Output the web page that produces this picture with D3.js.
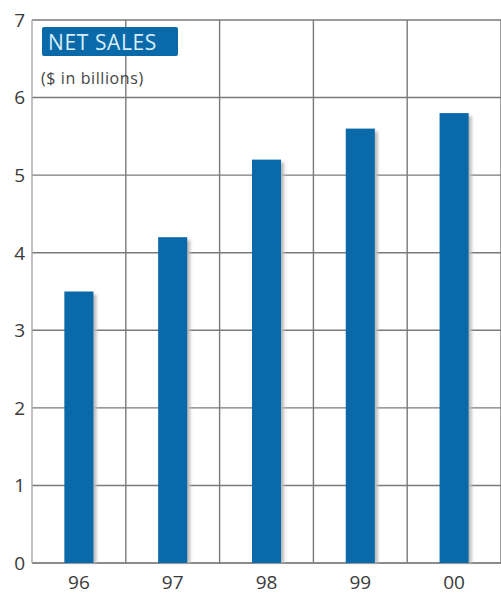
<!DOCTYPE html>
<html>
<head>
<meta charset="utf-8">
<script src="https://cdn.jsdelivr.net/npm/d3@7"></script>
<style>
  body { margin: 0; background: #fff; }
  svg { display: block; font-family: "Open Sans", "Noto Sans", sans-serif; }
</style>
</head>
<body>
<svg width="501" height="594"></svg>
<script>
// data
var years = ["96", "97", "98", "99", "00"];
var sales = [3.5, 4.2, 5.2, 5.6, 5.8];
var yTicks = [0, 1, 2, 3, 4, 5, 6, 7];

var svg = d3.select("svg"),
    width = +svg.attr("width"),
    height = +svg.attr("height");

// plot edges (don't use "top", it's window.top)
var plotLeft = 32, plotRight = 501, plotTop = 20, plotBottom = 563;

var x = d3.scaleBand()
    .domain(years)
    .range([plotLeft, plotRight])
    .paddingInner(0.69)
    .paddingOuter(0.345);

var y = d3.scaleLinear().domain([0, 7]).range([plotBottom, plotTop]);

// shadow blur for the bars
var defs = svg.append("defs");
defs.append("filter").attr("id", "blur")
    .append("feGaussianBlur").attr("stdDeviation", 1.6);

// horizontal gridlines
svg.append("g").selectAll("line")
    .data(yTicks)
    .enter().append("line")
    .attr("x1", plotLeft).attr("x2", plotRight)
    .attr("y1", d => y(d)).attr("y2", d => y(d))
    .attr("stroke", d => d == 0 ? "#666" : "#7a7a7a")
    .attr("stroke-width", 1.4);

// vertical gridlines (cell edges)
var step = x.step();
svg.append("g").selectAll("line")
    .data(d3.range(years.length + 1))
    .enter().append("line")
    .attr("x1", i => plotLeft + i * step).attr("x2", i => plotLeft + i * step)
    .attr("y1", plotTop).attr("y2", plotBottom)
    .attr("stroke", (d, i) => i == 0 ? "#a8a8a8" : "#7a7a7a")
    .attr("stroke-width", 1.4);

// bar shadows
svg.append("g").selectAll("rect")
    .data(sales)
    .enter().append("rect")
    .attr("x", (d, i) => x(years[i]) + 3)
    .attr("y", d => y(d) + 3)
    .attr("width", x.bandwidth())
    .attr("height", d => plotBottom - y(d) - 3)
    .attr("fill", "#bbb")
    .attr("filter", "url(#blur)");

// bars
svg.append("g").selectAll("rect")
    .data(sales)
    .enter().append("rect")
    .attr("x", (d, i) => x(years[i]))
    .attr("y", d => y(d))
    .attr("width", x.bandwidth())
    .attr("height", d => plotBottom - y(d))
    .attr("fill", "#0a69a8");

// y tick labels
svg.append("g").selectAll("text")
    .data(yTicks)
    .enter().append("text")
    .attr("x", 25)
    .attr("y", d => y(d))
    .attr("dy", "0.36em")
    .attr("text-anchor", "end")
    .attr("font-size", 19)
    .attr("fill", "#3a3a3a")
    .text(d => d);

// x tick labels
svg.append("g").selectAll("text")
    .data(years)
    .enter().append("text")
    .attr("x", d => x(d) + x.bandwidth() / 2)
    .attr("y", 589)
    .attr("text-anchor", "middle")
    .attr("font-size", 19)
    .attr("fill", "#3a3a3a")
    .text(d => d);

// title box
svg.append("rect")
    .attr("x", 42).attr("y", 27)
    .attr("width", 136).attr("height", 29)
    .attr("rx", 2)
    .attr("fill", "#0a69a8");

svg.append("text")
    .attr("x", 48).attr("y", 50)
    .attr("font-size", 21)
    .attr("letter-spacing", 0.6)
    .attr("fill", "#d8eefa")
    .text("NET SALES");

svg.append("text")
    .attr("x", 41).attr("y", 84)
    .attr("font-size", 16)
    .attr("letter-spacing", 0.6)
    .attr("fill", "#444")
    .text("($ in billions)");
</script>
</body>
</html>
